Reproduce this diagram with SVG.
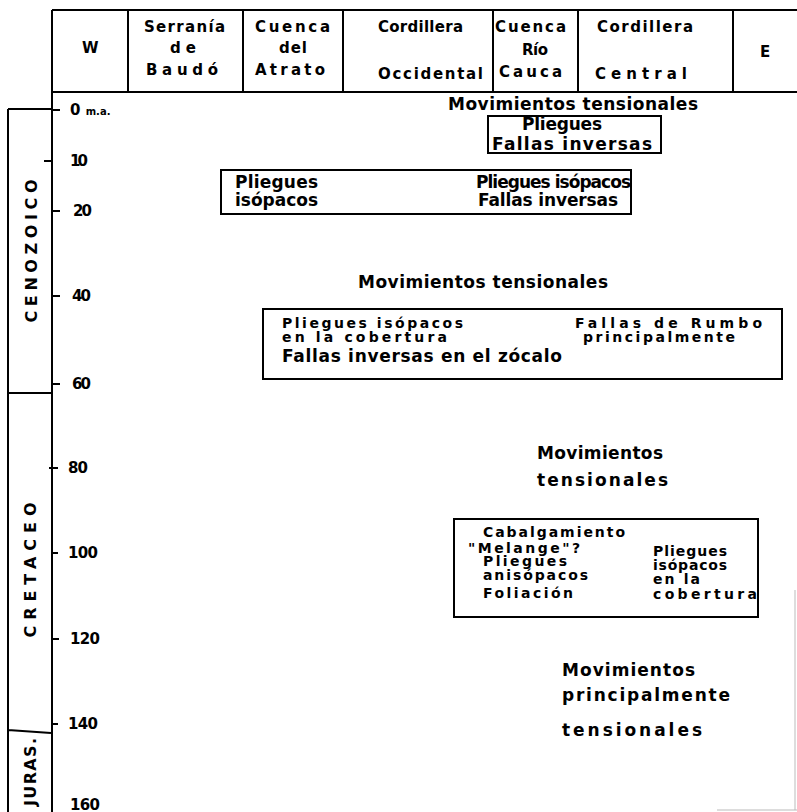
<svg xmlns="http://www.w3.org/2000/svg" width="797" height="812" viewBox="0 0 797 812">
<style>
.ln{stroke:#000;stroke-width:2;fill:none}
.fa{stroke:#bbb;stroke-width:1;fill:none}
.bx{stroke:#000;stroke-width:2;fill:none}
text{font-family:"DejaVu Sans","Liberation Sans",Arial,sans-serif;font-weight:bold;fill:#000}
.h{font-size:15px}
.t{font-size:17px}
.s{font-size:14px}
.k{font-size:15px}
.era{font-size:16px}
</style>
<rect width="797" height="812" fill="#fff"/>
<g id="header">
<path class="ln" d="M52 10H797M52 92H797M52 10V92M128 10V92M243 10V92M343 10V92M493 10V92M578 10V92M733 10V92"/>
<text class="h" x="82" y="53" textLength="18">W</text>
<text class="h" x="144" y="32" textLength="81">Serranía</text>
<text class="h" x="170" y="53" textLength="26">de</text>
<text class="h" x="146" y="75" textLength="72">Baudó</text>
<text class="h" x="255" y="32" textLength="75">Cuenca</text>
<text class="h" x="279" y="53" textLength="28">del</text>
<text class="h" x="255" y="75" textLength="70">Atrato</text>
<text class="h" x="378" y="32" textLength="85">Cordillera</text>
<text class="h" x="378" y="79" textLength="105">Occidental</text>
<text class="h" x="495" y="32" textLength="71">Cuenca</text>
<text class="h" x="522" y="55" textLength="26">Río</text>
<text class="h" x="499" y="77" textLength="63">Cauca</text>
<text class="h" x="597" y="32" textLength="96">Cordillera</text>
<text class="h" x="595" y="79" textLength="92">Central</text>
<text class="h" x="760" y="57" textLength="13">E</text>
</g>
<g id="axis">
<path class="ln" d="M52 92V812"/>
<path class="ln" d="M52 110H60M44 161H52M52 211H60M52 296H60M52 384H60M49 468H58M52 553H58M52 639H59M52 724H58"/>
<text class="k" x="70" y="115">0 <tspan font-size="10px">m.a.</tspan></text>
<text class="k" x="70" y="166" textLength="18">10</text>
<text class="k" x="73" y="216" textLength="19">20</text>
<text class="k" x="72" y="301" textLength="19">40</text>
<text class="k" x="72" y="389" textLength="19">60</text>
<text class="k" x="68" y="473" textLength="20">80</text>
<text class="k" x="68" y="558" textLength="30">100</text>
<text class="k" x="70" y="644" textLength="30">120</text>
<text class="k" x="68" y="729" textLength="30">140</text>
<text class="k" x="70" y="810" textLength="30">160</text>
</g>
<g id="eras">
<path class="ln" d="M8 109H52M8 109V812M8 393H52M8 730L51 733"/>
<text class="era" transform="translate(37 251) rotate(-90)" text-anchor="middle" textLength="143">CENOZOICO</text>
<text class="era" transform="translate(36 570) rotate(-90)" text-anchor="middle" textLength="135">CRETACEO</text>
<text class="era" transform="translate(36 772) rotate(-90)" text-anchor="middle" textLength="68">JURAS.</text>
</g>
<g id="frame-remnants">
<path class="fa" d="M795 590V810M717 810H797"/>
</g>
<g id="mov-0">
<text class="t" x="448" y="110" textLength="250">Movimientos tensionales</text>
</g>
<g id="box-1">
<rect class="bx" x="488" y="116" width="173" height="37"/>
<text class="t" x="522" y="130" textLength="80">Pliegues</text>
<text class="t" x="492" y="150" textLength="160">Fallas inversas</text>
</g>
<g id="box-2">
<rect class="bx" x="221" y="170" width="410" height="44"/>
<text class="t" x="235" y="188" textLength="83">Pliegues</text>
<text class="t" x="235" y="206" textLength="83">isópacos</text>
<text class="t" x="476" y="188" textLength="155">Pliegues isópacos</text>
<text class="t" x="478" y="206" textLength="140">Fallas inversas</text>
</g>
<g id="mov-1">
<text class="t" x="358" y="288" textLength="250">Movimientos tensionales</text>
</g>
<g id="box-3">
<rect class="bx" x="263" y="309" width="519" height="70"/>
<text class="s" x="282" y="328" textLength="181">Pliegues isópacos</text>
<text class="s" x="282" y="342" textLength="165">en la cobertura</text>
<text class="t" x="282" y="362" textLength="280">Fallas inversas en el zócalo</text>
<text class="s" x="575" y="328" textLength="187">Fallas de Rumbo</text>
<text class="s" x="583" y="342" textLength="152">principalmente</text>
</g>
<g id="mov-2">
<text class="t" x="537" y="459" textLength="126">Movimientos</text>
<text class="t" x="537" y="486" textLength="131">tensionales</text>
</g>
<g id="box-4">
<rect class="bx" x="454" y="519" width="304" height="98"/>
<text class="s" x="483" y="537" textLength="142">Cabalgamiento</text>
<text class="s" x="468" y="553" textLength="112">"Melange"?</text>
<text class="s" x="483" y="566" textLength="84">Pliegues</text>
<text class="s" x="483" y="580" textLength="105">anisópacos</text>
<text class="s" x="483" y="598" textLength="90">Foliación</text>
<text class="s" x="653" y="556" textLength="74">Pliegues</text>
<text class="s" x="653" y="570" textLength="74">isópacos</text>
<text class="s" x="653" y="584" textLength="47">en la</text>
<text class="s" x="653" y="599" textLength="104">cobertura</text>
</g>
<g id="mov-3">
<text class="t" x="562" y="676" textLength="133">Movimientos</text>
<text class="t" x="562" y="701" textLength="168">principalmente</text>
<text class="t" x="562" y="736" textLength="140">tensionales</text>
</g>
</svg>
